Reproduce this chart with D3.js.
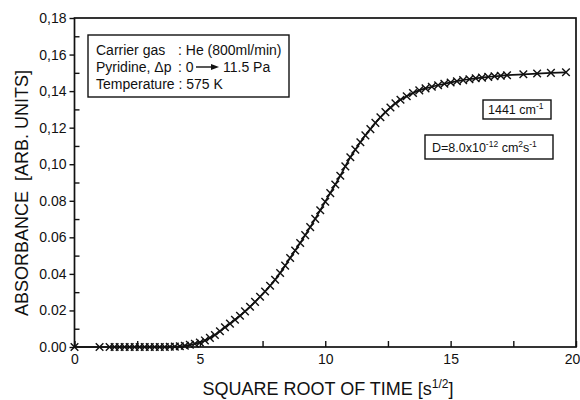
<!DOCTYPE html>
<html>
<head>
<meta charset="utf-8">
<script src="https://cdn.jsdelivr.net/npm/d3@7"></script>
<style>
  html, body { margin: 0; padding: 0; background: #fff; }
  svg { display: block; font-family: "Liberation Sans", Arial, Helvetica, sans-serif; }
  text { fill: #111; }
</style>
</head>
<body>
<svg id="chart" width="580" height="400"></svg>
<script>
// Square root of time [s^1/2] for each measured point
const sqrtTime = [
  0, 1.0, 1.4, 1.6, 1.8, 2.0, 2.2, 2.4, 2.6, 2.8, 3.0, 3.2, 3.4, 3.6, 3.8, 4.0, 4.2, 4.4, 4.6, 4.8,
  5.0, 5.2, 5.4, 5.6, 5.8, 6.0, 6.2, 6.4, 6.6, 6.8, 7.0, 7.2, 7.4, 7.6, 7.8, 8.0, 8.2, 8.4, 8.6, 8.8,
  9.0, 9.2, 9.4, 9.6, 9.8, 10.0, 10.2, 10.4, 10.6, 10.8, 11.0, 11.2, 11.4, 11.6, 11.8, 12.0, 12.2, 12.4,
  12.6, 12.8, 13.0, 13.25, 13.5, 13.75, 14.0, 14.25, 14.5, 14.75, 15.0, 15.25, 15.5, 15.75, 16.0, 16.25,
  16.5, 16.75, 17.0, 17.25, 17.9, 18.45, 19.0, 19.6
];
// Absorbance [arb. units] at 1441 cm-1
const absorbance = [
  0, 0, 0, 0, 0, 0, 0, 0, 0, 0, 0, 0, 0, 0, 0.0001, 0.0002, 0.0004, 0.0007, 0.0012, 0.0018,
  0.0025, 0.0036, 0.0050, 0.0066, 0.0086, 0.0108, 0.0128, 0.0149, 0.0171, 0.0195, 0.0220, 0.0247, 0.0275,
  0.0304, 0.0335, 0.0368, 0.0405, 0.0445, 0.0487, 0.0528, 0.0569, 0.0612, 0.0656, 0.0701, 0.0748, 0.0795,
  0.0842, 0.0889, 0.0937, 0.0988, 0.1038, 0.1080, 0.1120, 0.1158, 0.1192, 0.1226, 0.1257, 0.1285, 0.1310,
  0.1333, 0.1353, 0.1372, 0.1390, 0.1404, 0.1415, 0.1424, 0.1432, 0.1440, 0.1447, 0.1454, 0.1460, 0.1465,
  0.1470, 0.1474, 0.1478, 0.1481, 0.1484, 0.1487, 0.1492, 0.1496, 0.1500, 0.1503
];

const xMajorTicks = [0, 5, 10, 15, 20];
const xMinorTicks = [2.5, 7.5, 12.5, 17.5];
const yMajorTicks = [0, 0.02, 0.04, 0.06, 0.08, 0.10, 0.12, 0.14, 0.16, 0.18];
const yTickLabels = ["0.00", "0.02", "0.04", "0.06", "0.08", "0,10", "0,12", "0,14", "0,16", "0,18"];
const yMinorTicks = [0.01, 0.03, 0.05, 0.07, 0.09, 0.11, 0.13, 0.15, 0.17];

const xTitle = "SQUARE ROOT OF TIME [s";
const yTitle = "ABSORBANCE  [ARB. UNITS]";

const svg = d3.select("#chart");
const m = { left: 74.5, right: 576, top: 18, bottom: 347 };

const x = d3.scaleLinear().domain([0, 20]).range([m.left, m.right]);
const y = d3.scaleLinear().domain([0, 0.18]).range([m.bottom, m.top]);

// X axis: major and minor ticks pointing into the plot
const gx = svg.append("g").attr("transform", `translate(0,${m.bottom})`)
  .call(d3.axisBottom(x).tickValues(xMajorTicks).tickSize(-6).tickPadding(7).tickFormat(d3.format("d")));
svg.append("g").attr("transform", `translate(0,${m.bottom})`)
  .call(d3.axisBottom(x).tickValues(xMinorTicks).tickSize(-6).tickFormat(""));

// Y axis: major ticks outside with labels, minor ticks inside
const gy = svg.append("g").attr("transform", `translate(${m.left},0)`)
  .call(d3.axisLeft(y).tickValues(yMajorTicks).tickSize(5).tickPadding(3)
    .tickFormat((d, i) => yTickLabels[i]));
svg.append("g").attr("transform", `translate(${m.left},0)`)
  .call(d3.axisLeft(y).tickValues(yMinorTicks).tickSize(-5).tickFormat(""));

svg.selectAll(".domain").remove();
svg.selectAll(".tick line").attr("stroke", "#111").attr("stroke-width", 1.4);
gx.selectAll("text").attr("font-size", 14).attr("fill", "#111");
gy.selectAll("text").attr("font-size", 14).attr("fill", "#111");
// keep the last x label inside the page edge
gx.selectAll(".tick text").filter(d => d === 20).attr("dx", -4);

// Plot frame
svg.append("rect")
  .attr("x", m.left).attr("y", m.top)
  .attr("width", m.right - m.left).attr("height", m.bottom - m.top)
  .attr("fill", "none").attr("stroke", "#111").attr("stroke-width", 1.7);

// Axis titles
svg.append("text")
  .attr("x", 328).attr("y", 395).attr("text-anchor", "middle")
  .attr("font-size", 18)
  .call(t => {
    t.append("tspan").text(xTitle);
    t.append("tspan").attr("font-size", 12).attr("dy", -7).text("1/2");
    t.append("tspan").attr("dy", 7).text("]");
  });

svg.append("text")
  .attr("transform", "translate(28,193) rotate(-90)")
  .attr("text-anchor", "middle").attr("font-size", 18)
  .style("white-space", "pre")
  .text(yTitle);

const pts = sqrtTime.map((t, i) => [t, absorbance[i]]);

// Fitted curve
svg.append("path")
  .datum(pts)
  .attr("fill", "none").attr("stroke", "#111").attr("stroke-width", 1.7)
  .attr("d", d3.line().x(d => x(d[0])).y(d => y(d[1])).curve(d3.curveMonotoneX));

// Measured points as crosses
const s = 3.8;
svg.append("g").selectAll("path.pt")
  .data(pts).join("path")
  .attr("class", "pt")
  .attr("transform", d => `translate(${x(d[0])},${y(d[1])})`)
  .attr("d", `M${-s},${-s}L${s},${s}M${-s},${s}L${s},${-s}`)
  .attr("stroke", "#111").attr("stroke-width", 1.4).attr("fill", "none");

// Experimental conditions box
const info = svg.append("g");
info.append("rect").attr("x", 88).attr("y", 35).attr("width", 201).attr("height", 62)
  .attr("fill", "#fff").attr("stroke", "#111").attr("stroke-width", 1.4);
info.append("text").attr("x", 96).attr("y", 55).attr("font-size", 14).text("Carrier gas");
info.append("text").attr("x", 178).attr("y", 55).attr("font-size", 14).text(": He (800ml/min)");
info.append("text").attr("x", 96).attr("y", 72).attr("font-size", 14).text("Pyridine, Δp");
info.append("text").attr("x", 178).attr("y", 72).attr("font-size", 14).text(": 0");
info.append("line").attr("x1", 196).attr("x2", 212).attr("y1", 67).attr("y2", 67)
  .attr("stroke", "#111").attr("stroke-width", 1.4);
info.append("path").attr("d", "M211,64L219,67L211,70Z").attr("fill", "#111");
info.append("text").attr("x", 223).attr("y", 72).attr("font-size", 14).text("11.5 Pa");
info.append("text").attr("x", 96).attr("y", 89).attr("font-size", 14).text("Temperature : 575 K");

// Wavenumber box
svg.append("rect").attr("x", 483).attr("y", 100).attr("width", 68).attr("height", 19)
  .attr("fill", "#fff").attr("stroke", "#111").attr("stroke-width", 1.4);
svg.append("text").attr("x", 488).attr("y", 114).attr("font-size", 12.5)
  .call(t => {
    t.append("tspan").text("1441 cm");
    t.append("tspan").attr("font-size", 8.5).attr("dy", -5).text("-1");
  });

// Diffusion coefficient box
svg.append("rect").attr("x", 425).attr("y", 135).attr("width", 128).attr("height", 24)
  .attr("fill", "#fff").attr("stroke", "#111").attr("stroke-width", 1.4);
svg.append("text").attr("x", 432).attr("y", 152).attr("font-size", 12.5)
  .call(t => {
    t.append("tspan").text("D=8.0x10");
    t.append("tspan").attr("font-size", 8.5).attr("dy", -5).text("-12");
    t.append("tspan").attr("dy", 5).text(" cm");
    t.append("tspan").attr("font-size", 8.5).attr("dy", -5).text("2");
    t.append("tspan").attr("dy", 5).text("s");
    t.append("tspan").attr("font-size", 8.5).attr("dy", -5).text("-1");
  });
</script>
</body>
</html>
